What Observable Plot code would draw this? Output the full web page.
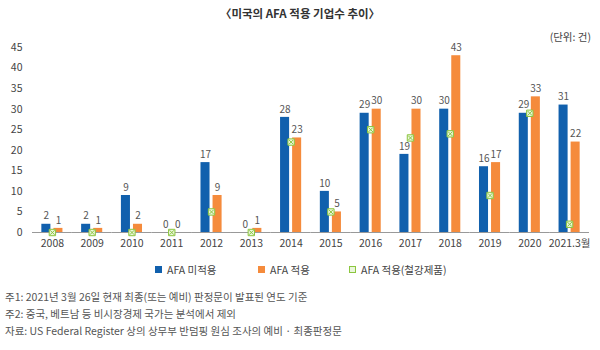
<!DOCTYPE html>
<html><head><meta charset="utf-8">
<script src="https://cdn.jsdelivr.net/npm/d3@7"></script>
<script src="https://cdn.jsdelivr.net/npm/@observablehq/plot@0.6"></script>
<style>
body{margin:0;background:#fff;font-family:"Noto Sans CJK KR","Noto Sans",sans-serif;}
#wrap{position:relative;width:600px;height:350px;}
#title{position:absolute;top:5px;left:0;width:600px;text-align:center;font-size:11.5px;font-weight:bold;color:#333;z-index:2;}
#unit{position:absolute;top:29px;right:9px;font-size:10.5px;color:#444;z-index:2;}
#chart{position:absolute;top:26px;left:0;z-index:1;}
#legend{position:absolute;top:262px;left:0;width:600px;height:16px;font-size:10.5px;color:#444;}
#legend span.item{position:absolute;display:flex;align-items:center;white-space:nowrap;}
#legend i{display:inline-block;width:7px;height:7px;margin-right:5px;}
#notes{position:absolute;top:288px;left:5px;font-size:10.5px;color:#555;line-height:17px;}
</style></head>
<body>
<div id="wrap">
<div id="title">〈미국의 AFA 적용 기업수 추이〉</div>
<div id="unit">(단위: 건)</div>
<div id="chart"></div>
<div id="legend"></div>
<div id="notes"></div>
</div>
<script>
const years = ["2008","2009","2010","2011","2012","2013","2014","2015","2016","2017","2018","2019","2020","2021.3월"];
const nonAFA = [2,2,9,0,17,0,28,10,29,19,30,16,29,31];
const afa = [1,1,2,0,9,1,23,5,30,30,43,17,33,22];
const afaSteel = [0,0,0,0,5,0,22,5,25,23,24,9,29,2];
const seriesNames = ["AFA 미적용","AFA 적용","AFA 적용(철강제품)"];
const colors = ["#1160ad","#f58b3c","#8cc63f"];
const notes = [
  "주1: 2021년 3월 26일 현재 최종(또는 예비) 판정문이 발표된 연도 기준",
  "주2: 중국, 베트남 등 비시장경제 국가는 분석에서 제외",
  "자료: US Federal Register 상의 상무부 반덤핑 원심 조사의 예비 · 최종판정문"
];

const bars = [];
years.forEach((y,i)=>{
  bars.push({year:y, series:seriesNames[0], value:nonAFA[i]});
  bars.push({year:y, series:seriesNames[1], value:afa[i]});
});
const steel = years.map((y,i)=>({year:y, value:afaSteel[i]}));

const chart = Plot.plot({
  width: 600,
  height: 230,
  marginTop: 21,
  marginBottom: 24,
  marginLeft: 32,
  marginRight: 11,
  style: {fontFamily: '"Noto Sans CJK KR","Noto Sans",sans-serif', fontSize: "10.5px", color: "#444", background: "transparent"},
  fx: {domain: years, padding: 0, round: false, label: null, tickSize: 0, tickPadding: 7},
  x: {domain: seriesNames.slice(0,2), paddingInner: 0.25, paddingOuter: 0.775, round: false, axis: null},
  y: {domain: [0,45], ticks: [0,5,10,15,20,25,30,35,40,45], tickSize: 0, tickPadding: 10, label: null},
  color: {domain: seriesNames.slice(0,2), range: colors.slice(0,2)},
  marks: [
    Plot.barY(bars, {fx: "year", x: "series", y: "value", fill: "series"}),
    Plot.ruleY([0], {stroke: "#999", strokeWidth: 1}),
    Plot.text(bars, {fx: "year", x: "series", y: "value", text: d => String(d.value), dy: -8, fill: "#555", fontSize: 10}),
    Plot.dot(steel, {fx: "year", y: "value", symbol: "square", r: 3.6, fill: "#eaf6dc", stroke: colors[2], strokeWidth: 1}),
    Plot.dot(steel, {fx: "year", y: "value", symbol: "times", r: 2.2, stroke: colors[2], strokeWidth: 1})
  ]
});
document.getElementById("chart").appendChild(chart);

const legendPos = [155, 258, 349];
const leg = document.getElementById("legend");
seriesNames.forEach((s,i)=>{
  const it = document.createElement("span");
  it.className = "item";
  it.style.left = legendPos[i] + "px";
  const sw = document.createElement("i");
  if (i < 2) { sw.style.background = colors[i]; }
  else { sw.style.background = "#eaf6dc"; sw.style.border = "1px solid " + colors[2]; sw.style.width = "5px"; sw.style.height = "5px"; }
  it.appendChild(sw);
  it.appendChild(document.createTextNode(s));
  leg.appendChild(it);
});
const nt = document.getElementById("notes");
notes.forEach(n=>{ const d = document.createElement("div"); d.textContent = n; nt.appendChild(d); });
</script>
</body></html>
